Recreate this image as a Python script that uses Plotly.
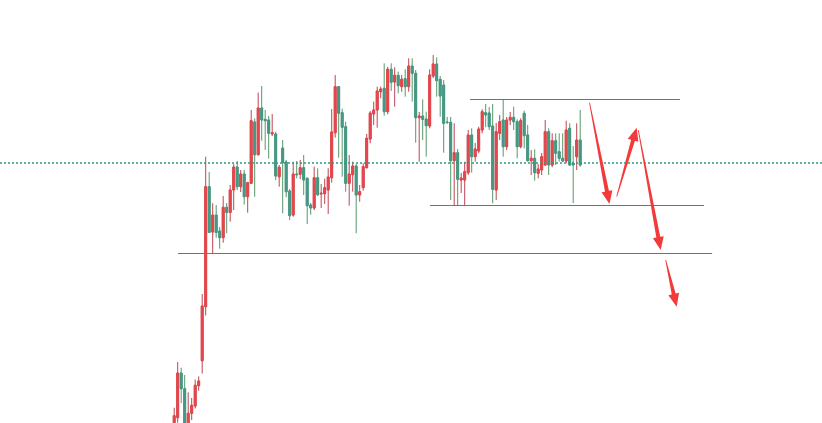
import math
import plotly.graph_objects as go

# ---- data (price units) ----
opens = [77.3, 82.3, 127, 111.3, 77, 86.7, 94, 114.3, 139.3, 193.3,
         313.3, 268, 285, 269, 262.3, 292.7, 287.5, 310, 333, 313.3,
         326, 303.3, 316.7, 378, 345.3, 392, 380.7, 380, 366, 366,
         323.3, 352, 338, 309, 285, 326, 325.7, 332.3, 321.7, 295,
         292, 322.3, 306, 306.3, 310, 322.3, 367.3, 413.3, 387.3, 373.3,
         316.7, 325.3, 334, 305, 312.3, 332.3, 361, 386, 390, 408.3,
         411.7, 388.3, 430.7, 418, 424.7, 413.3, 421.3, 413.3, 434, 426.7,
         382.3, 384, 381, 374, 424, 436, 420.7, 415, 378, 377.7,
         339.3, 347.3, 320, 320, 327.3, 365, 343.3, 349, 370, 387.3,
         387, 374, 310, 366.7, 380, 353.3, 380, 382.7, 378.3, 353.3,
         386.7, 365, 339.3, 341.7, 326.7, 330, 335, 368.3, 335, 359.3,
         348.3, 341.7, 339, 371.7, 337, 343.3, 360]
highs = [92.3, 138, 132.3, 125, 107.7, 102, 120.5, 123.7, 206, 343.3,
         328, 296.7, 295, 273, 304, 297, 315, 336, 339, 330,
         330, 318.3, 390, 381.7, 407.3, 414, 390, 384, 386, 368.3,
         335, 360, 340, 311, 338.3, 339, 340, 345, 322.7, 297,
         333.3, 331.7, 316, 321.3, 331.7, 391, 425, 414, 391.3, 378.3,
         345, 338.3, 336, 315, 336.7, 366, 389, 398.3, 413.3, 413.3,
         436.7, 433, 436.7, 432.7, 428.3, 425, 430.7, 441.7, 441.7, 430,
         388, 400.7, 388.3, 430.7, 445, 442.7, 424, 420, 383, 383,
         376.7, 351, 327, 338.3, 370, 371.7, 357, 373.3, 390.7, 396,
         393, 396, 377, 385, 400.7, 383, 388, 393.3, 380.7, 381.7,
         389.3, 375, 350, 350.7, 336, 347, 380, 371.7, 366.7, 366.7,
         366.7, 366.7, 379.3, 376.7, 354, 376.7, 390]
lows = [75, 77.3, 97, 74, 74, 80, 91.5, 109.3, 126.5, 184.5,
        267, 246.7, 262.3, 251.3, 257.3, 266.7, 278.3, 290, 310, 308,
        295.5, 287.3, 316, 303.3, 344.5, 359.3, 350, 341.3, 364, 320,
        313.3, 286.7, 302.7, 280, 283.3, 321.7, 321, 305, 276, 285.3,
        290, 304, 292, 296, 286, 317.3, 362.3, 342.3, 323.3, 308.3,
        294.3, 308.3, 266.7, 298.3, 309.3, 331.5, 356.7, 375, 372.3, 401.7,
        384.3, 385.7, 409, 393.3, 406.7, 408.3, 403.3, 408.3, 398.3, 357.3,
        338.3, 360, 343.3, 371.7, 422, 403.3, 383.3, 347.3, 376, 300,
        295, 295, 307, 295, 325, 327.3, 338.3, 346.7, 366.7, 372.7,
        370, 296.7, 300, 360, 343.3, 350, 375, 370, 341.7, 351.7,
        351.7, 338.3, 325, 319.3, 321.7, 325, 334.5, 325, 332.7, 335,
        338.3, 338, 336.7, 334, 297, 330, 333.3]
closes = [84.3, 127, 111.3, 77, 86.7, 94.7, 114.7, 119, 194, 313.3,
          267.5, 285, 267.5, 262.3, 292.7, 287.5, 310, 333, 313.3, 326,
          303.3, 317.3, 379.3, 345.3, 392, 380, 379.3, 366.7, 367.3, 324,
          332.7, 337.3, 308.3, 284.3, 326, 325.3, 332.3, 320, 294.3, 292,
          322.3, 305.3, 306.7, 312.3, 323, 368, 413.3, 386.7, 372.7, 316.7,
          326, 334, 305, 308.3, 333.3, 361.7, 387, 390, 409, 411,
          388.3, 430.7, 417.7, 424.7, 414.3, 420.7, 413.3, 434, 426.7, 382.3,
          384, 380.7, 374.3, 425, 436, 419.3, 404, 376.7, 377.5, 339.3,
          347.3, 320.7, 322, 328.3, 365, 343.3, 351, 371, 388.3, 385,
          373.3, 310.7, 368.3, 378.3, 353.3, 380, 382.7, 378.3, 353.3, 379.3,
          364.3, 339.3, 341.7, 327.3, 331, 343.3, 368.3, 335, 359.3, 346.7,
          341.7, 339, 370, 335, 335, 360, 335]
idx = list(range(len(opens)))

last_price = 337
level_prices = [400.5, 294.5, 246.5]
level_start = [84.5, 73.1, 1.1]
level_end = [144.5, 151.4, 153.7]

arrow_tail_x = [118.66, 126.43, 132.6, 140.43]
arrow_tail_y = [397.3, 303.3, 370, 240]
arrow_head_x = [124.37, 132.14, 139.0, 143.57]
arrow_head_y = [296, 372.3, 250, 193.3]

# ---- view ----
W, H = 822, 423
xr = [-49.77, 185.09]
yr = [77, 500]
sx = W / (xr[1] - xr[0])
sy = H / (yr[1] - yr[0])

UP_BODY, UP_WICK = "#e4474c", "#bd4452"
DN_BODY, DN_WICK = "#469886", "#559868"

fig = go.Figure()
# wicks
fig.add_trace(go.Candlestick(
    x=idx, open=opens, high=highs, low=lows, close=closes,
    increasing=dict(line=dict(color=UP_WICK, width=1), fillcolor=UP_BODY),
    decreasing=dict(line=dict(color=DN_WICK, width=1), fillcolor=DN_BODY),
    whiskerwidth=0, hoverinfo="skip"))
# bodies
body_hi = [max(o, c) for o, c in zip(opens, closes)]
body_lo = [min(o, c) for o, c in zip(opens, closes)]
fig.add_trace(go.Candlestick(
    x=idx, open=opens, high=body_hi, low=body_lo, close=closes,
    increasing=dict(line=dict(color=UP_BODY, width=1), fillcolor=UP_BODY),
    decreasing=dict(line=dict(color=DN_BODY, width=1), fillcolor=DN_BODY),
    whiskerwidth=0, hoverinfo="skip"))

shapes = []
shapes.append(dict(type="line", xref="paper", x0=0, x1=1, yref="y",
                   y0=last_price, y1=last_price,
                   line=dict(color="#2f9a7e", width=1.5, dash="2px,2px")))
for p, a, b in zip(level_prices, level_start, level_end):
    shapes.append(dict(type="line", xref="x", yref="y", x0=a, x1=b, y0=p, y1=p,
                       line=dict(color="#e0444a", width=1)))


def to_px(x, y):
    return (x - xr[0]) * sx, (yr[1] - y) * sy


def to_data(px, py):
    return px / sx + xr[0], yr[1] - py / sy


for tx, ty, hx, hy in zip(arrow_tail_x, arrow_tail_y, arrow_head_x, arrow_head_y):
    tpx, tpy = to_px(tx, ty)
    hpx, hpy = to_px(hx, hy)
    dx, dy = hpx - tpx, hpy - tpy
    L = math.hypot(dx, dy)
    ux, uy = dx / L, dy / L
    nx, ny = -uy, ux
    hl, hw, sw1, sw0 = 13, 5.5, 2.0, 0.4
    nkx, nky = hpx - ux * hl, hpy - uy * hl
    pts = [
        (tpx + nx * sw0, tpy + ny * sw0),
        (nkx + nx * sw1, nky + ny * sw1),
        (nkx + nx * hw, nky + ny * hw),
        (hpx, hpy),
        (nkx - nx * hw, nky - ny * hw),
        (nkx - nx * sw1, nky - ny * sw1),
        (tpx - nx * sw0, tpy - ny * sw0),
    ]
    dpts = [to_data(a, b) for a, b in pts]
    path = "M " + " L ".join(f"{a:.4f},{b:.4f}" for a, b in dpts) + " Z"
    shapes.append(dict(type="path", xref="x", yref="y", path=path,
                       fillcolor="#f23a3a", line=dict(width=0)))

fig.update_layout(
    width=W, height=H, margin=dict(l=0, r=0, t=0, b=0),
    paper_bgcolor="white", plot_bgcolor="white",
    showlegend=False, boxgap=0.25,
    xaxis=dict(range=xr, visible=False, rangeslider=dict(visible=False), fixedrange=True),
    yaxis=dict(range=yr, visible=False, fixedrange=True),
    shapes=shapes,
)

fig.write_html("out.html", config={"displayModeBar": False},
               post_script="document.body.style.margin='0';document.body.style.overflow='hidden';")
